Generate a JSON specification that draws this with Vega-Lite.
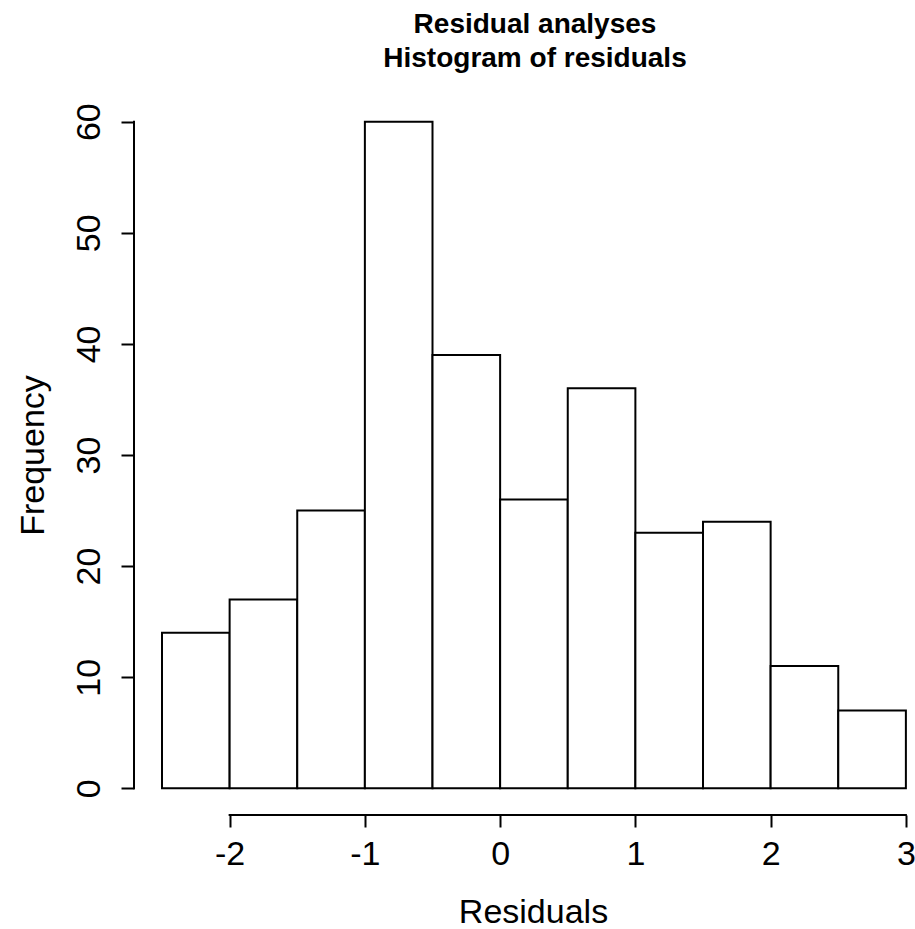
{
  "$schema": "https://vega.github.io/schema/vega-lite/v6.json",
  "width": 780,
  "height": 720,
  "autosize": {"type": "none"},
  "padding": {"left": 134, "top": 95, "right": 1, "bottom": 114},
  "background": "white",
  "config": {"view": {"stroke": null}, "font": "Liberation Sans"},
  "title": {
    "text": ["Residual analyses", "Histogram of residuals"],
    "fontSize": 28,
    "fontWeight": "bold",
    "font": "Liberation Sans",
    "lineHeight": 34,
    "anchor": "middle",
    "frame": "group",
    "dx": 11,
    "offset": 22,
    "color": "black"
  },
  "data": {
    "values": [
      {"start": -2.5, "end": -2.0, "count": 14},
      {"start": -2.0, "end": -1.5, "count": 17},
      {"start": -1.5, "end": -1.0, "count": 25},
      {"start": -1.0, "end": -0.5, "count": 60},
      {"start": -0.5, "end": 0.0, "count": 39},
      {"start": 0.0, "end": 0.5, "count": 26},
      {"start": 0.5, "end": 1.0, "count": 36},
      {"start": 1.0, "end": 1.5, "count": 23},
      {"start": 1.5, "end": 2.0, "count": 24},
      {"start": 2.0, "end": 2.5, "count": 11},
      {"start": 2.5, "end": 3.0, "count": 7}
    ]
  },
  "layer": [
    {
      "mark": {"type": "bar", "fill": "white", "stroke": "black", "strokeWidth": 2},
      "encoding": {
        "x": {
          "field": "start",
          "type": "quantitative",
          "scale": {"domain": [-2.707, 3.06], "nice": false, "zero": false},
          "axis": {
            "title": "Residuals",
            "values": [-2, -1, 0, 1, 2, 3],
            "labelExpr": "toString(datum.value)",
            "domain": false,
            "grid": false,
            "ticks": true,
            "tickSize": 12,
            "tickWidth": 2,
            "tickColor": "black",
            "labelFontSize": 34,
            "labelFont": "Liberation Sans",
            "labelColor": "black",
            "labelBaseline": "alphabetic",
            "labelAlign": "center",
            "labelPadding": 37,
            "labelFlush": false,
            "labelOverlap": false,
            "titleFont": "Liberation Sans",
            "titleFontSize": 34,
            "titleFontWeight": "normal",
            "titleColor": "black",
            "titleX": 399,
            "titleY": 107,
            "titleAlign": "center",
            "titleBaseline": "alphabetic"
          }
        },
        "x2": {"field": "end"},
        "y": {
          "field": "count",
          "type": "quantitative",
          "scale": {"domain": [-2.4, 62.4], "nice": false, "zero": false},
          "axis": {
            "title": "Frequency",
            "values": [0, 10, 20, 30, 40, 50, 60],
            "domain": false,
            "grid": false,
            "ticks": true,
            "tickSize": 13,
            "tickWidth": 2,
            "tickColor": "black",
            "labelAngle": 270,
            "labelAlign": "center",
            "labelBaseline": "alphabetic",
            "labelPadding": 22,
            "labelFontSize": 34,
            "labelFont": "Liberation Sans",
            "labelColor": "black",
            "labelFlush": false,
            "labelOverlap": false,
            "titleFont": "Liberation Sans",
            "titleFontSize": 34,
            "titleFontWeight": "normal",
            "titleColor": "black",
            "titleAngle": 270,
            "titleX": -91,
            "titleY": 360,
            "titleAlign": "center",
            "titleBaseline": "alphabetic"
          }
        },
        "y2": {"datum": 0}
      }
    },
    {
      "data": {"values": [{}]},
      "mark": {"type": "rule", "stroke": "black", "strokeWidth": 2, "strokeCap": "square"},
      "encoding": {
        "x": {"datum": -2},
        "x2": {"datum": 3},
        "y": {"datum": -2.4}
      }
    },
    {
      "data": {"values": [{}]},
      "mark": {"type": "rule", "stroke": "black", "strokeWidth": 2, "strokeCap": "square"},
      "encoding": {
        "x": {"datum": -2.707},
        "y": {"datum": 0},
        "y2": {"datum": 60}
      }
    }
  ]
}
